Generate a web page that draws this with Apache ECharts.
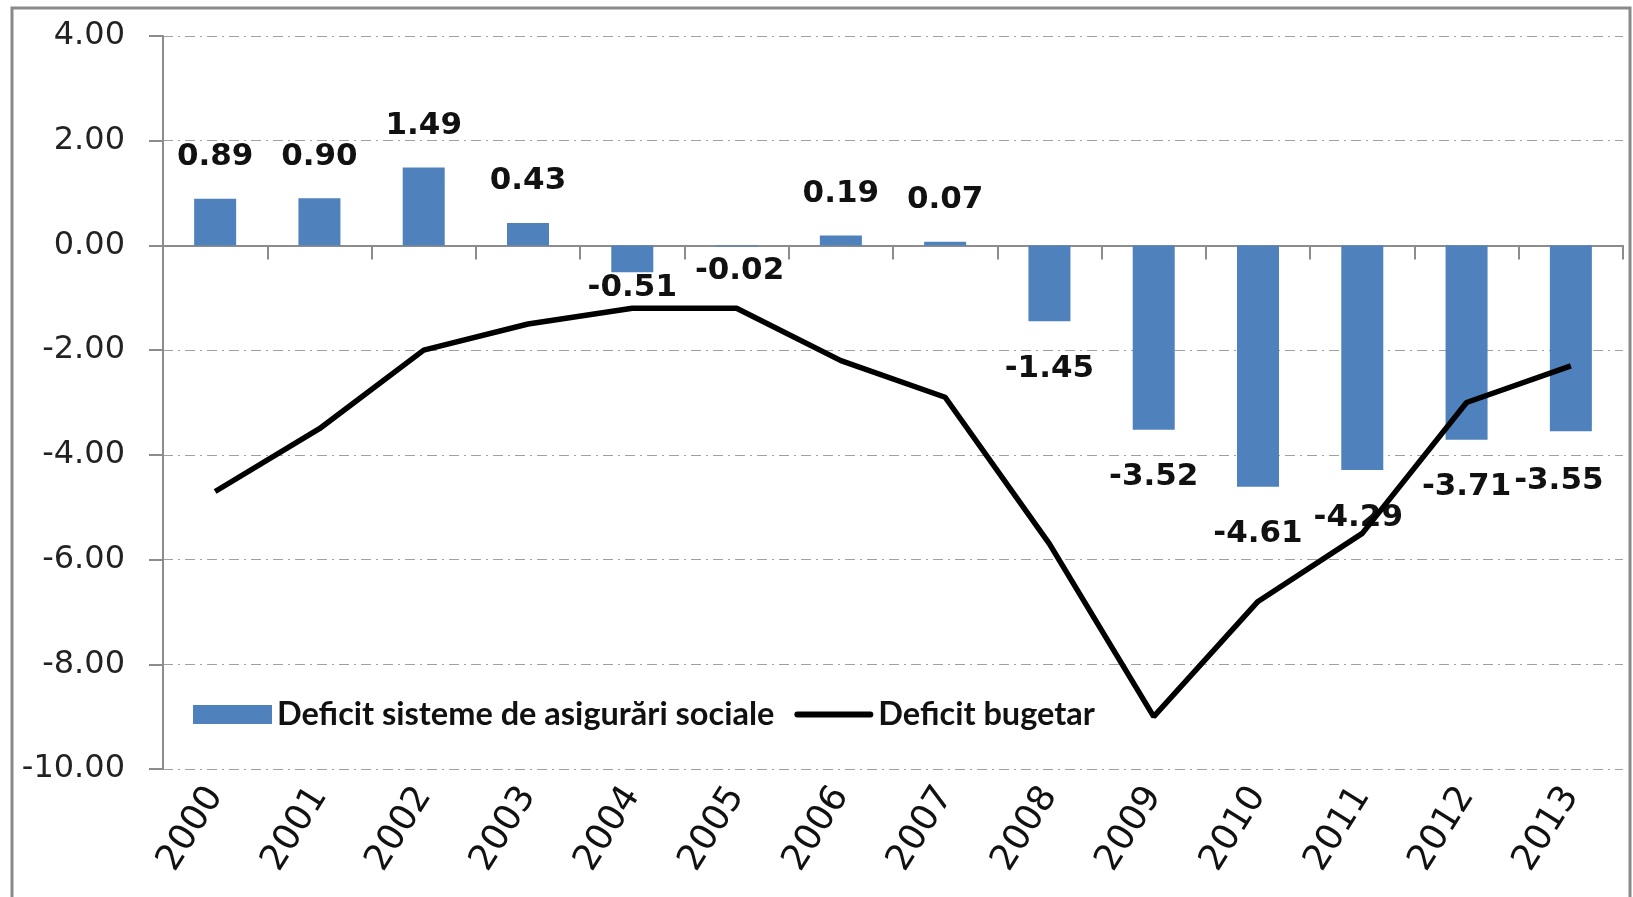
<!DOCTYPE html>
<html>
<head>
<meta charset="utf-8">
<script src="https://cdn.jsdelivr.net/npm/echarts@6/dist/echarts.min.js"></script>
<style>
  html, body { margin: 0; padding: 0; background: #fff; }
  #chart { width: 1633px; height: 897px; }
</style>
</head>
<body>
<div id="chart"></div>
<script>
// ani
var years = ['2000', '2001', '2002', '2003', '2004', '2005', '2006',
             '2007', '2008', '2009', '2010', '2011', '2012', '2013'];

// Deficit sisteme de asigurari sociale (bars)
var deficitAsigurari = [0.89, 0.90, 1.49, 0.43, -0.51, -0.02, 0.19,
                        0.07, -1.45, -3.52, -4.61, -4.29, -3.71, -3.55];

// Deficit bugetar (linia neagra)
var deficitBugetar = [-4.7, -3.5, -2.0, -1.5, -1.2, -1.2, -2.2,
                      -2.9, -5.7, -9.0, -6.8, -5.5, -3.0, -2.3];

var myChart = echarts.init(document.getElementById('chart'));

var barData = deficitAsigurari.map(function (v, i) {
    var lbl = { position: v >= 0 ? 'top' : 'bottom', distance: v >= 0 ? 26 : 32 };
    if (i === 4) { lbl.distance = 0; }
    if (i === 5) { lbl.distance = 9; lbl.offset = [3, 0]; }
    if (i === 11) { lbl.offset = [-4, 0]; }
    if (i === 13) { lbl.offset = [-12, 2]; }
    return { value: v, label: lbl };
});

var numFont = '"DejaVu Sans", sans-serif';
var textFont = 'Lato, "Liberation Sans", sans-serif';

var option = {
    backgroundColor: '#fff',
    animation: false,
    graphic: [{
        type: 'rect',
        shape: { x: 12, y: 8, width: 1618, height: 920 },
        style: { fill: 'none', stroke: '#8a8a8a', lineWidth: 3 },
        silent: true
    }],
    legend: {
        left: 188,
        top: 693,
        itemGap: 20,
        itemWidth: 79,
        itemHeight: 19,
        textStyle: { fontFamily: textFont, fontWeight: 'bold', fontSize: 32.5, color: '#111' },
        data: [
            { name: 'Deficit sisteme de asigurări sociale', icon: 'rect' },
            { name: 'Deficit bugetar',
              icon: 'path://M3,0 L76,0 A3,3 0 0 1 76,6 L3,6 A3,3 0 0 1 3,0 Z' }
        ]
    },
    grid: { left: 163, right: 10, top: 36, bottom: 128 },
    xAxis: [{
        type: 'category',
        data: years,
        position: 'bottom',
        axisLine: { show: false, onZero: false },
        axisTick: { show: false },
        axisLabel: {
            rotate: 58, margin: 21, fontFamily: numFont,
            fontSize: 36, color: '#111'
        }
    }, {
        type: 'category',
        data: years,
        position: 'bottom',
        axisLine: { onZero: true, lineStyle: { color: '#8c8c8c', width: 2 } },
        axisTick: { show: true, length: 14, lineStyle: { color: '#8c8c8c', width: 2 } },
        axisLabel: { show: false }
    }],
    yAxis: {
        type: 'value',
        min: -10, max: 4, interval: 2,
        axisLine: { show: true, lineStyle: { color: '#8c8c8c', width: 2 } },
        axisTick: { show: true, length: 14, lineStyle: { color: '#8c8c8c', width: 2 } },
        axisLabel: {
            margin: 38, fontFamily: numFont, fontSize: 32, color: '#222',
            formatter: function (v) { return v.toFixed(2); }
        },
        splitLine: {
            show: true,
            lineStyle: { color: '#a0a0a0', width: 1.2, type: [10, 5, 2, 5] }
        }
    },
    series: [{
        name: 'Deficit sisteme de asigurări sociale',
        type: 'bar',
        xAxisIndex: 0,
        barWidth: 42,
        itemStyle: { color: '#4f81bd' },
        label: {
            show: true,
            fontFamily: numFont, fontWeight: 'bold', fontSize: 31, color: '#111',
            formatter: function (p) { return p.value.toFixed(2); }
        },
        data: barData
    }, {
        name: 'Deficit bugetar',
        type: 'line',
        xAxisIndex: 0,
        symbol: 'none',
        lineStyle: { color: '#000', width: 5.5 },
        itemStyle: { color: '#000' },
        data: deficitBugetar
    }]
};

myChart.setOption(option);
</script>
</body>
</html>
